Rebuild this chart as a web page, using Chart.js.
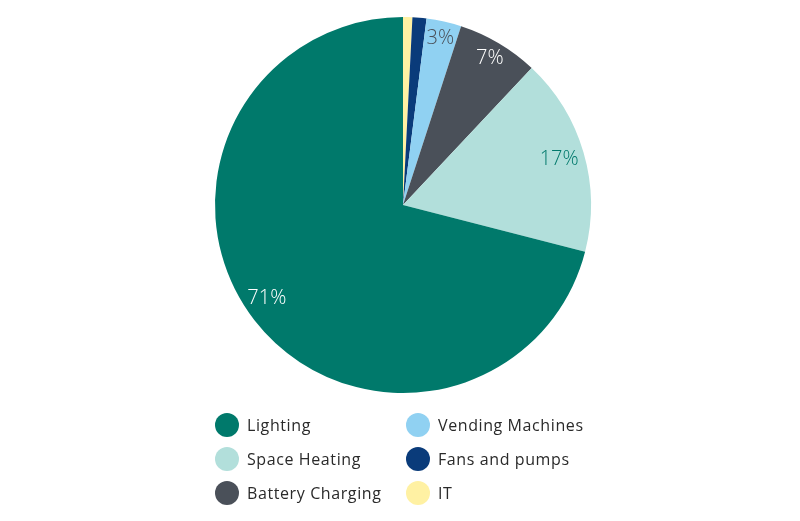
<!DOCTYPE html>
<html>
<head>
<meta charset="utf-8">
<script src="https://cdn.jsdelivr.net/npm/chart.js@4/dist/chart.umd.min.js"></script>
<style>
  html, body { margin: 0; padding: 0; background: #ffffff; }
  #wrap { position: relative; width: 800px; height: 521px; }
  #c { position: absolute; left: 0; top: 0; }
  .leg { position: absolute; font-family: "Open Sans", "Noto Sans", sans-serif; font-size: 16px; color: #2a2a2a; letter-spacing: 0.6px; white-space: nowrap; }
  .leg .dot { position: absolute; width: 24px; height: 24px; border-radius: 50%; left: 0; top: 0; }
  .leg .txt { position: absolute; left: 32px; top: 1px; line-height: 22px; }
</style>
</head>
<body>
<div id="wrap">
  <canvas id="c" width="800" height="521"></canvas>
</div>
<script>
// Data in legend order
const categories = ["Lighting", "Space Heating", "Battery Charging", "Vending Machines", "Fans and pumps", "IT"];
const values = [71, 17, 7, 3, 1.2, 0.8];
const labelsShown = ["71%", "17%", "7%", "3%", "", ""];
const colors = ["#00796b", "#b2dfdb", "#4a5059", "#90d1f2", "#0a3b7a", "#fff1a3"];
const labelColors = ["#ffffff", "#00796b", "#ffffff", "#4a5059", "#ffffff", "#ffffff"];

// The reference pie runs counter-clockwise from 12 o'clock in legend order,
// so feed Chart.js the reversed order (which it draws clockwise).
const rev = a => a.slice().reverse();

// label placement style (fraction of radius, angle nudge in degrees), legend order
const labelRadius = [0.878, 0.865, 0.908, 0.91, 0.9, 0.9];
const labelNudge = [3.4, 0, 0, 0, 0, 0];

const pctLabels = {
  id: 'pctLabels',
  afterDatasetsDraw(chart) {
    const ctx = chart.ctx;
    const meta = chart.getDatasetMeta(0);
    const txts = rev(labelsShown);
    const cols = rev(labelColors);
    const rads = rev(labelRadius);
    const nud = rev(labelNudge);
    ctx.save();
    ctx.font = '300 20px "Open Sans", "Noto Sans", sans-serif';
    ctx.textAlign = 'center';
    ctx.textBaseline = 'middle';
    meta.data.forEach((arc, i) => {
      if (!txts[i]) return;
      const p = arc.getProps(['x', 'y', 'startAngle', 'endAngle', 'outerRadius'], true);
      const mid = (p.startAngle + p.endAngle) / 2 + nud[i] * Math.PI / 180;
      const r = p.outerRadius * rads[i];
      ctx.fillStyle = cols[i];
      ctx.fillText(txts[i], p.x + Math.cos(mid) * r, p.y + Math.sin(mid) * r);
    });
    ctx.restore();
  }
};

new Chart(document.getElementById('c'), {
  type: 'pie',
  data: {
    labels: rev(categories),
    datasets: [{
      data: rev(values),
      backgroundColor: rev(colors),
      borderWidth: 0
    }]
  },
  options: {
    responsive: false,
    animation: false,
    layout: { padding: { top: 17, bottom: 128, left: 215, right: 209 } },
    plugins: { legend: { display: false }, tooltip: { enabled: false } }
  },
  plugins: [pctLabels]
});

// HTML legend, two columns (column-major, legend order)
const wrap = document.getElementById('wrap');
const colX = [215, 406];
const rowY = [413, 447, 481];
categories.forEach((name, i) => {
  const col = Math.floor(i / 3), row = i % 3;
  const d = document.createElement('div');
  d.className = 'leg';
  d.style.left = colX[col] + 'px';
  d.style.top = rowY[row] + 'px';
  d.innerHTML = '<span class="dot" style="background:' + colors[i] + '"></span><span class="txt"></span>';
  d.querySelector('.txt').textContent = name;
  wrap.appendChild(d);
});
</script>
</body>
</html>
